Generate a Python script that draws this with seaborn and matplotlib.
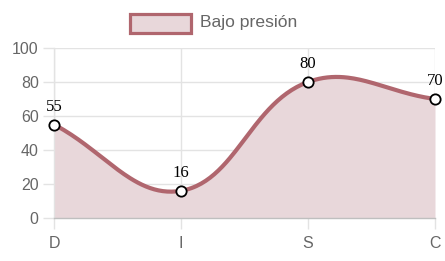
import numpy as np
import pandas as pd
import seaborn as sns
import matplotlib
matplotlib.use("Agg")
import matplotlib.pyplot as plt
from matplotlib.patches import Rectangle

categories = ["D", "I", "S", "C"]
values = [55, 16, 80, 70]
series_name = "Bajo presión"
yticks = [0, 20, 40, 60, 80, 100]

LINE = "#b0666e"
FILL = "#e8d7da"
GRID = "#e3e3e3"
TICKC = "#666666"

sns.set_theme(style="white")
plt.rcParams['font.family'] = ['Liberation Sans', 'DejaVu Sans']

W, H = 445, 261
fig = plt.figure(figsize=(W / 100, H / 100), dpi=100)
L, R, T, B = 54, 435, 48, 218
ax = fig.add_axes([L / W, 1 - B / H, (R - L) / W, (B - T) / H])
ax.set_xlim(0, len(categories) - 1)
ax.set_ylim(0, 100)

# Chart.js style bezier (tension 0.4) computed in pixel space
xs = np.arange(len(categories), dtype=float)
pts = ax.transData.transform(np.column_stack([xs, values]))
t = 0.4
n = len(pts)
cps = []
for i in range(n):
    prev = pts[i - 1] if i > 0 else pts[i]
    cur = pts[i]
    nxt = pts[i + 1] if i < n - 1 else pts[i]
    d01 = np.hypot(*(cur - prev))
    d12 = np.hypot(*(nxt - cur))
    s01 = d01 / (d01 + d12) if (d01 + d12) else 0
    s12 = d12 / (d01 + d12) if (d01 + d12) else 0
    fa, fb = t * s01, t * s12
    cp1 = cur - fa * (nxt - prev)
    cp2 = cur + fb * (nxt - prev)
    cps.append((cp1, cp2))
curve = []
u = np.linspace(0, 1, 60)[:, None]
for i in range(n - 1):
    p0 = pts[i]; p1 = cps[i][1]; p2 = cps[i + 1][0]; p3 = pts[i + 1]
    seg = (1 - u) ** 3 * p0 + 3 * (1 - u) ** 2 * u * p1 + 3 * (1 - u) * u ** 2 * p2 + u ** 3 * p3
    curve.append(seg if i == 0 else seg[1:])
curve = np.vstack(curve)
cdata = ax.transData.inverted().transform(curve)
df_curve = pd.DataFrame({"x": cdata[:, 0], "y": cdata[:, 1]})
df = pd.DataFrame({"x": xs, "y": values})

ax.fill_between(df_curve["x"], df_curve["y"], 0, color=FILL, lw=0, zorder=1)
sns.lineplot(data=df_curve, x="x", y="y", ax=ax, color=LINE, lw=3, sort=False,
             zorder=3, estimator=None)
sns.scatterplot(data=df, x="x", y="y", ax=ax, s=55, facecolor="white",
                edgecolor="black", linewidth=1.3, zorder=5, clip_on=False)
for xi, v in zip(xs, values):
    ax.annotate(str(v), (xi, v), xytext=(0, 7), textcoords="offset points",
                ha="center", va="bottom", fontsize=12, family="Liberation Serif",
                color="black", zorder=6)

ax.set_xticks(xs)
ax.set_xticklabels(categories)
ax.set_yticks(yticks)
ax.set_xlabel("")
ax.set_ylabel("")
ax.grid(True, color=GRID, lw=1)
ax.set_axisbelow(True)
ax.tick_params(axis="both", length=8, width=1, color=GRID, labelcolor=TICKC,
               labelsize=11.5, left=True, bottom=True)
ax.tick_params(axis="x", pad=5)
ax.tick_params(axis="y", pad=3)
for s in ["top", "right"]:
    ax.spines[s].set_visible(False)
ax.spines["left"].set_color(GRID)
ax.spines["bottom"].set_color("#bfbfbf")
ax.spines["left"].set_linewidth(1)
ax.spines["bottom"].set_linewidth(1)

# legend
fig.add_artist(Rectangle((130 / W, 1 - 33 / H), 61 / W, 19 / H, transform=fig.transFigure,
                         facecolor=FILL, edgecolor=LINE, lw=2.3))
fig.text(200 / W, 1 - 23 / H, series_name, ha="left", va="center", fontsize=12.6,
         color=TICKC)

fig.savefig("out.png", dpi=100)
